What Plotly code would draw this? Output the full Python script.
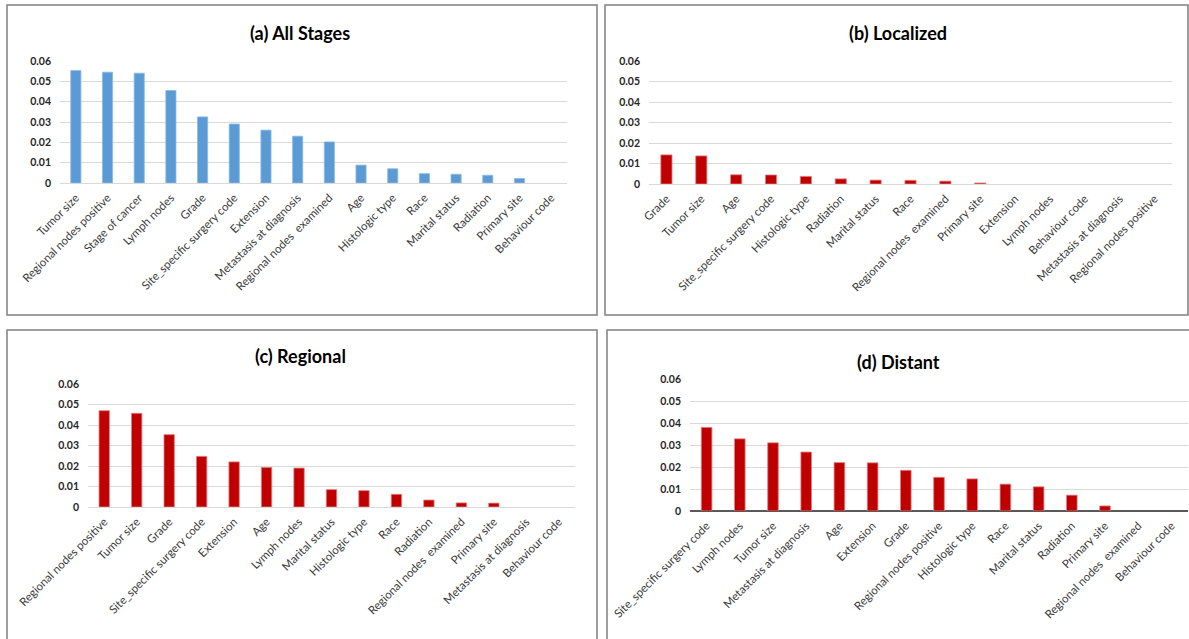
import plotly.graph_objects as go

W, H = 1189, 639

# ---- data ----
cats_a = ["Tumor size", "Regional nodes positive", "Stage of cancer", "Lymph nodes", "Grade",
          "Site_specific surgery code", "Extension", "Metastasis at diagnosis",
          "Regional nodes  examined", "Age", "Histologic type", "Race", "Marital status",
          "Radiation", "Primary site", "Behaviour code"]
vals_a = [0.0553, 0.0545, 0.0540, 0.0455, 0.0325, 0.0290, 0.0260, 0.0230, 0.0202,
          0.0088, 0.0070, 0.0046, 0.0043, 0.0038, 0.0022, 0.0]

cats_b = ["Grade", "Tumor size", "Age", "Site_specific surgery code", "Histologic type",
          "Radiation", "Marital status", "Race", "Regional nodes  examined", "Primary site",
          "Extension", "Lymph nodes", "Behaviour code", "Metastasis at diagnosis",
          "Regional nodes positive"]
vals_b = [0.0142, 0.0137, 0.0045, 0.0044, 0.0037, 0.0025, 0.0019, 0.0018, 0.0014, 0.0005,
          0.0, 0.0, 0.0, 0.0, 0.0]

cats_c = ["Regional nodes positive", "Tumor size", "Grade", "Site_specific surgery code",
          "Extension", "Age", "Lymph nodes", "Marital status", "Histologic type", "Race",
          "Radiation", "Regional nodes  examined", "Primary site", "Metastasis at diagnosis",
          "Behaviour code"]
vals_c = [0.0470, 0.0457, 0.0353, 0.0247, 0.0220, 0.0193, 0.0190, 0.0085, 0.0080, 0.0062,
          0.0034, 0.0020, 0.0019, 0.0, 0.0]

cats_d = ["Site_specific surgery code", "Lymph nodes", "Tumor size", "Metastasis at diagnosis",
          "Age", "Extension", "Grade", "Regional nodes positive", "Histologic type", "Race",
          "Marital status", "Radiation", "Primary site", "Regional nodes  examined",
          "Behaviour code"]
vals_d = [0.0380, 0.0328, 0.0310, 0.0268, 0.0220, 0.0219, 0.0185, 0.0153, 0.0146, 0.0122,
          0.0110, 0.0072, 0.0023, 0.0, 0.0]

titles = ["(a) All Stages", "(b) Localized", "(c) Regional", "(d) Distant"]
ytick_vals = [0, 0.01, 0.02, 0.03, 0.04, 0.05, 0.06]
ytick_text = ["0", "0.01", "0.02", "0.03", "0.04", "0.05", "0.06"]

BLUE = "#5B9BD5"
RED = "#C00000"

def px(x):
    return x / W

def py(y):
    return 1 - y / H

panels = [
    dict(cats=cats_a, vals=vals_a, color=BLUE, line="#8DB9E3", x0=60, x1=567, yt=61, yb=183,
         box=(7, 5, 597, 315), title_xy=(300, 33), zl="#D9D9D9"),
    dict(cats=cats_b, vals=vals_b, color=RED, line="#E08080", x0=649, x1=1172, yt=61, yb=184,
         box=(605, 5, 1188, 315), title_xy=(898, 33), zl="#D9D9D9"),
    dict(cats=cats_c, vals=vals_c, color=RED, line="#E08080", x0=88, x1=575, yt=384, yb=507,
         box=(7, 330, 597, 640), title_xy=(300, 356), zl="#D9D9D9"),
    dict(cats=cats_d, vals=vals_d, color=RED, line="#E08080", x0=690, x1=1188, yt=379, yb=511,
         box=(607, 330, 1190, 640), title_xy=(898, 362), zl="#595959"),
]

fig = go.Figure()
shapes = []
annotations = []
FONT = "Lato, Open Sans, sans-serif"

for i, p in enumerate(panels):
    n = "" if i == 0 else str(i + 1)
    fig.add_trace(go.Bar(
        x=p["cats"], y=p["vals"], xaxis="x" + n, yaxis="y" + n,
        marker=dict(color=p["color"],
                    line=dict(color=p["line"], width=[0.8 if v > 0 else 0 for v in p["vals"]])),
        showlegend=False, cliponaxis=True,
    ))
    fig.layout["xaxis" + n] = dict(
        domain=[px(p["x0"]), px(p["x1"])], anchor="y" + n,
        tickangle=-45, tickfont=dict(family=FONT, size=11.5, color="#3A3A3A"),
        showgrid=False, showline=False, ticks="", categoryorder="array",
        categoryarray=p["cats"], fixedrange=True, automargin=False,
        ticklabelstandoff=5,
    )
    fig.layout["yaxis" + n] = dict(
        domain=[py(p["yb"]), py(p["yt"])], anchor="x" + n, range=[0, 0.06],
        tickvals=ytick_vals, ticktext=ytick_text,
        tickfont=dict(family=FONT, size=10.5, color="#262626", weight="bold"),
        showgrid=True, gridcolor="#D9D9D9", gridwidth=1,
        zeroline=True, zerolinecolor=p["zl"], zerolinewidth=1.5 if i == 3 else 1,
        showline=False, ticks="", ticklabelstandoff=8, fixedrange=True, automargin=False,
    )
    bx0, by0, bx1, by1 = p["box"]
    shapes.append(dict(type="rect", xref="paper", yref="paper",
                       x0=px(bx0), x1=px(bx1), y0=py(by1), y1=py(by0),
                       line=dict(color="#7F7F7F", width=1.5), fillcolor="rgba(0,0,0,0)"))
    tx, ty = p["title_xy"]
    annotations.append(dict(text="<b>" + titles[i] + "</b>", xref="paper", yref="paper",
                            x=px(tx), y=py(ty), showarrow=False, xanchor="center",
                            yanchor="middle", font=dict(family=FONT, size=18, color="#000000")))

fig.update_layout(
    width=W, height=H, autosize=False,
    margin=dict(l=0, r=0, t=0, b=0, pad=0, autoexpand=False),
    paper_bgcolor="white", plot_bgcolor="white",
    bargap=0.68, shapes=shapes, annotations=annotations,
)

fig.write_html("out.html", config={"displayModeBar": False},
               post_script="document.body.style.margin='0px';")
